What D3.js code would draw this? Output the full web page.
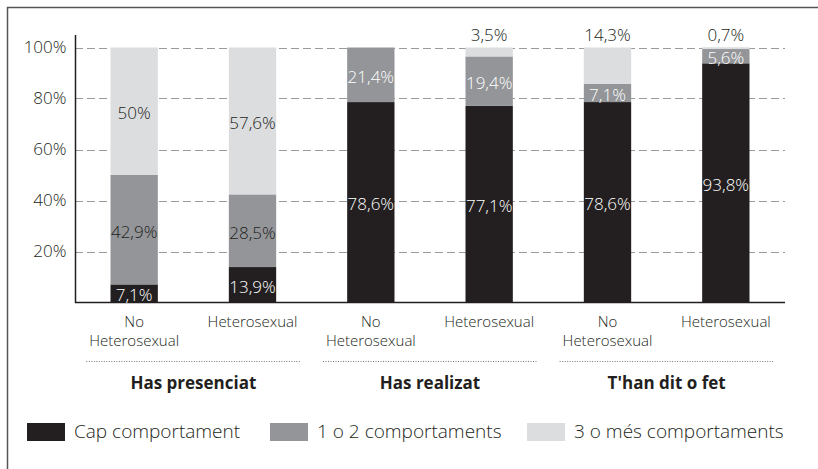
<!DOCTYPE html>
<html>
<head>
<meta charset="utf-8">
<script src="https://cdn.jsdelivr.net/npm/d3@7"></script>
<style>
  body { margin: 0; background: #fff; }
  svg { display: block; font-family: "Open Sans", sans-serif; font-weight: 350; }
</style>
</head>
<body>
<svg width="818" height="469"></svg>
<script>
var categories = ["No|Heterosexual", "Heterosexual", "No|Heterosexual", "Heterosexual", "No|Heterosexual", "Heterosexual"];
var groups = ["Has presenciat", "Has realizat", "T'han dit o fet"];
var capComportament = [7.1, 13.9, 78.6, 77.1, 78.6, 93.8];
var unODos = [42.9, 28.5, 21.4, 19.4, 7.1, 5.6];
var tresOMes = [50, 57.6, 0, 3.5, 14.3, 0.7];
var seriesNames = ["Cap comportament", "1 o 2 comportaments", "3 o més comportaments"];
var yTicks = [20, 40, 60, 80, 100];

var colors = ["#231f20", "#939598", "#dcdddf"];
var ink = "#231f20";

var svg = d3.select("svg");

// frame
svg.append("path")
	.attr("d", "M7.5,469 V7.5 H818")
	.attr("fill", "none")
	.attr("stroke", "#555")
	.attr("stroke-width", 1.5);

var xScale = d3.scaleBand()
	.domain(d3.range(categories.length))
	.range([75, 785])
	.paddingInner(0.6)
	.paddingOuter(0.3);

var yScale = d3.scaleLinear()
	.domain([0, 100])
	.range([302.5, 47.5]);

// gridlines
svg.append("g")
	.selectAll("line")
	.data(yTicks)
	.join("line")
		.attr("x1", 75)
		.attr("x2", 785)
		.attr("y1", function(d) { return Math.round(yScale(d)) + 0.5; })
		.attr("y2", function(d) { return Math.round(yScale(d)) + 0.5; })
		.attr("stroke", "#9a9a9a")
		.attr("stroke-dasharray", "8,4");

var yAxis = d3.axisLeft(yScale)
	.tickValues(yTicks)
	.tickSize(0)
	.tickPadding(9)
	.tickFormat(function(d) { return d + "%"; });

var yg = svg.append("g")
	.attr("transform", "translate(75.5,0)")
	.call(yAxis);
yg.select(".domain").remove();
yg.selectAll("text")
	.attr("font-size", 17)
	.attr("font-family", "Open Sans")
	.attr("font-weight", 350)
	.attr("fill", ink);

// stacked data
var rows = categories.map(function(c, i) {
	return { i: i, cap: capComportament[i], mid: unODos[i], top: tresOMes[i] };
});
var stack = d3.stack().keys(["cap", "mid", "top"]);
var series = stack(rows);

var layers = svg.append("g")
	.selectAll("g")
	.data(series)
	.join("g")
		.attr("fill", function(d, k) { return colors[k]; });

layers.selectAll("rect")
	.data(function(d) { return d; })
	.join("rect")
		.attr("x", function(d) { return xScale(d.data.i); })
		.attr("width", xScale.bandwidth())
		.attr("y", function(d) { return yScale(d[1]); })
		.attr("height", function(d) { return yScale(d[0]) - yScale(d[1]); });

// axes lines
svg.append("line")
	.attr("x1", 75.5).attr("x2", 75.5)
	.attr("y1", 35).attr("y2", 303)
	.attr("stroke", ink).attr("stroke-width", 1.5);
svg.append("line")
	.attr("x1", 75).attr("x2", 785)
	.attr("y1", 302.5).attr("y2", 302.5)
	.attr("stroke", ink).attr("stroke-width", 1.5);

function fmt(v) {
	var s = (Math.round(v * 10) / 10).toString().replace(".", ",");
	return s + "%";
}

// value labels
var labels = svg.append("g")
	.attr("font-size", 17)
	.attr("text-anchor", "middle");

series.forEach(function(s, k) {
	s.forEach(function(d) {
		var v = d[1] - d[0];
		if (v <= 0) return;
		var cx = xScale(d.data.i) + xScale.bandwidth() / 2;
		var y, fill;
		if (k === 2 && v < 15) {
			y = yScale(100) - 7;
			fill = ink;
		} else {
			y = (yScale(d[0]) + yScale(d[1])) / 2 + 8;
			if (k === 0) fill = "#fff";
			else if (k === 1) fill = d.data.cap > 50 ? "#fff" : ink;
			else fill = ink;
		}
		labels.append("text")
			.attr("x", cx)
			.attr("y", y)
			.attr("fill", fill)
			.text(fmt(v));
	});
});

// category labels
var catG = svg.append("g")
	.attr("font-size", 15)
	.attr("fill", ink)
	.attr("text-anchor", "middle");

categories.forEach(function(c, i) {
	var parts = c.split("|");
	var cx = xScale(i) + xScale.bandwidth() / 2;
	parts.forEach(function(p, j) {
		catG.append("text")
			.attr("x", cx)
			.attr("y", 327 + j * 19)
			.text(p);
	});
});

// group labels + dotted rules
groups.forEach(function(g, gi) {
	var a = xScale(gi * 2) + xScale.bandwidth() / 2;
	var b = xScale(gi * 2 + 1) + xScale.bandwidth() / 2;
	var c = (a + b) / 2;
	svg.append("line")
		.attr("x1", c - 107).attr("x2", c + 107)
		.attr("y1", 361.5).attr("y2", 361.5)
		.attr("stroke", "#777")
		.attr("stroke-dasharray", "1,1.5");
	svg.append("text")
		.attr("x", c)
		.attr("y", 389)
		.attr("text-anchor", "middle")
		.attr("font-size", 17)
		.attr("font-weight", "bold")
		.attr("fill", ink)
		.text(g);
});

// legend
var legendX = [27, 270, 527];
var legend = svg.append("g");
seriesNames.forEach(function(n, k) {
	legend.append("rect")
		.attr("x", legendX[k])
		.attr("y", 423)
		.attr("width", 38)
		.attr("height", 18)
		.attr("fill", colors[k]);
	legend.append("text")
		.attr("x", legendX[k] + 47)
		.attr("y", 438)
		.attr("font-size", 19)
		.attr("fill", ink)
		.text(n);
});
</script>
</body>
</html>
